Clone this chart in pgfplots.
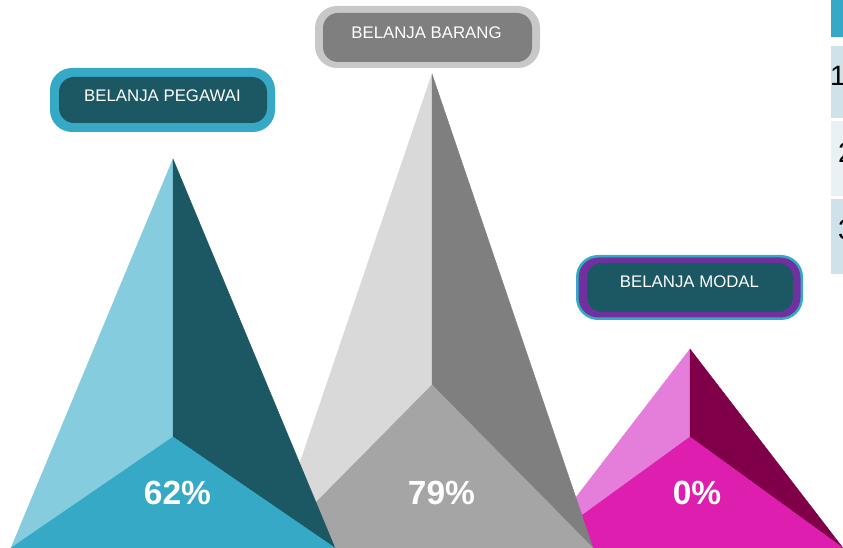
\documentclass[border=0pt]{standalone}
\usepackage{fontspec}
\setmainfont{Liberation Sans}
\usepackage{pgfplots}
\pgfplotsset{compat=1.18}
\definecolor{blL}{HTML}{84CCDE}
\definecolor{blD}{HTML}{1B5863}
\definecolor{blF}{HTML}{35A9C6}
\definecolor{grL}{HTML}{D9D9D9}
\definecolor{grD}{HTML}{7F7F7F}
\definecolor{grF}{HTML}{A5A5A5}
\definecolor{mgL}{HTML}{E57EDB}
\definecolor{mgD}{HTML}{7F0049}
\definecolor{mgF}{HTML}{DD1EAE}
\definecolor{boxB}{HTML}{36A9C6}
\definecolor{boxG}{HTML}{C8C8C8}
\definecolor{purp}{HTML}{7030A0}
\definecolor{cellA}{HTML}{CFE2EA}
\definecolor{cellB}{HTML}{E9F1F5}
\begin{document}
\begin{tikzpicture}
\begin{axis}[
  width=843pt, height=548pt, scale only axis,
  xmin=0, xmax=843, ymin=0, ymax=548,
  hide axis, clip=true,
  every axis plot/.append style={line width=0.4pt, line join=round},
]
\coordinate (sw) at (axis cs:0,0);
\coordinate (ne) at (axis cs:843,548);
% table cells at right edge
\addplot[fill=blF, draw=none] coordinates {(831,548) (843,548) (843,511) (831,511)} -- cycle;
\addplot[fill=cellA, draw=none] coordinates {(831,502) (843,502) (843,430) (831,430)} -- cycle;
\addplot[fill=cellB, draw=none] coordinates {(831,427) (843,427) (843,352) (831,352)} -- cycle;
\addplot[fill=cellA, draw=none] coordinates {(831,349) (843,349) (843,274) (831,274)} -- cycle;
% magenta pyramid (0%)
\addplot[fill=mgL, draw=mgL] coordinates {(690,199) (690,111) (537,0)} -- cycle;
\addplot[fill=mgD, draw=mgD] coordinates {(690,199) (690,111) (843,0)} -- cycle;
\addplot[fill=mgF, draw=mgF] coordinates {(690,111) (537,0) (843,0)} -- cycle;
% gray pyramid (79%)
\addplot[fill=grL, draw=grL] coordinates {(432,474) (432,163) (271,0)} -- cycle;
\addplot[fill=grD, draw=grD] coordinates {(432,474) (432,163) (593,0)} -- cycle;
\addplot[fill=grF, draw=grF] coordinates {(432,163) (271,0) (593,0)} -- cycle;
% blue pyramid (62%)
\addplot[fill=blL, draw=blL] coordinates {(173,389) (173,111) (11,0)} -- cycle;
\addplot[fill=blD, draw=blD] coordinates {(173,389) (173,111) (335,0)} -- cycle;
\addplot[fill=blF, draw=blF] coordinates {(173,111) (11,0) (335,0)} -- cycle;
% percentage labels
\begin{scope}[every node/.style={text=white, inner sep=0pt, anchor=base, font=\fontsize{33.5}{40}\selectfont\bfseries}]
\node at (axis cs:177.5,43) {62\%};
\node at (axis cs:441.5,43) {79\%};
\node at (axis cs:697,43) {0\%};
\end{scope}
% label boxes
\node[fill=boxB, rounded corners=22pt, minimum width=225pt, minimum height=64pt, inner sep=0pt] at (axis cs:162.5,448) {};
\node[fill=blD, rounded corners=15pt, minimum width=208pt, minimum height=46pt, inner sep=0pt] at (axis cs:163,448) {};
\node[fill=boxG, rounded corners=22pt, minimum width=225pt, minimum height=62pt, inner sep=0pt] at (axis cs:427.5,511) {};
\node[fill=grD, rounded corners=15pt, minimum width=209pt, minimum height=49pt, inner sep=0pt] at (axis cs:427.5,510.5) {};
\node[fill=boxB, rounded corners=22pt, minimum width=227pt, minimum height=65pt, inner sep=0pt] at (axis cs:689.5,260.5) {};
\node[fill=purp, rounded corners=20pt, minimum width=222pt, minimum height=60pt, inner sep=0pt] at (axis cs:689.5,260.5) {};
\node[fill=blD, rounded corners=15pt, minimum width=206pt, minimum height=49pt, inner sep=0pt] at (axis cs:690,260.5) {};
\begin{scope}[every node/.style={text=white, inner sep=0pt, anchor=base, font=\fontsize{16.8}{20}\selectfont}]
\node at (axis cs:162.5,446) {BELANJA PEGAWAI};
\node at (axis cs:426.5,509) {BELANJA BARANG};
\node at (axis cs:689.5,260) {BELANJA MODAL};
\end{scope}
\begin{scope}[every node/.style={text=black, inner sep=0pt, anchor=base west, font=\fontsize{28}{32}\selectfont}]
\node at (axis cs:830,462) {1};
\node at (axis cs:838,385) {2};
\node at (axis cs:838,308) {3};
\end{scope}
\end{axis}
\pgfresetboundingbox
\path (sw) rectangle (ne);
\end{tikzpicture}
\end{document}
